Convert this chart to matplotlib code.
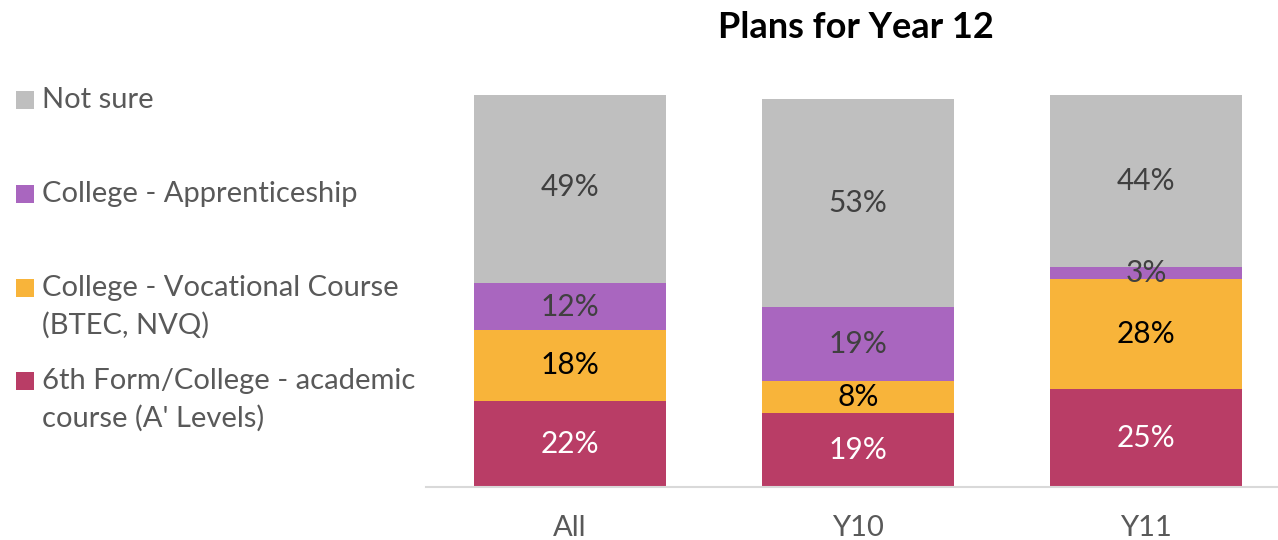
import matplotlib.pyplot as plt
from matplotlib.patches import Rectangle

# Share of students by plan for Year 12 (percent)
groups = ["All", "Y10", "Y11"]
series_names = [
    "6th Form/College - academic\ncourse (A' Levels)",
    "College - Vocational Course\n(BTEC, NVQ)",
    "College - Apprenticeship",
    "Not sure",
]
academic = [22, 19, 25]
vocational = [18, 8, 28]
apprenticeship = [12, 19, 3]
not_sure = [49, 53, 44]

colors = ["#B93D66", "#F8B43A", "#A966BF", "#BFBFBF"]
label_colors = ["white", "black", "#404040", "#404040"]

plt.rcParams['font.family'] = ['Lato', 'DejaVu Sans']

W, H = 1278, 540
fig = plt.figure(figsize=(W / 100, H / 100), dpi=100)
# plot area in pixels: x 426..1290, y 95..487
ax = fig.add_axes([426 / W, 1 - 487 / H, (1290 - 426) / W, (487 - 95) / H])

values = [academic, vocational, apprenticeship, not_sure]
x = list(range(len(groups)))
bottom = [0] * len(groups)
for vals, col, lcol in zip(values, colors, label_colors):
    ax.bar(x, vals, width=0.667, bottom=bottom, color=col, linewidth=0)
    for xi, v, b in zip(x, vals, bottom):
        ax.text(xi, b + v / 2, f"{v}%", ha="center", va="center",
                color=lcol, fontsize=21.5)
    bottom = [b + v for b, v in zip(bottom, vals)]

ax.set_xlim(-0.5, 2.5)
ax.set_ylim(0, 100)
ax.set_yticks([])
ax.set_xticks(x)
ax.set_xticklabels(groups, fontsize=21, color="#595959")
ax.tick_params(axis="x", length=0, pad=20)
for s in ["top", "right", "left"]:
    ax.spines[s].set_visible(False)
ax.spines["bottom"].set_color("#D9D9D9")
ax.spines["bottom"].set_linewidth(1.5)

fig.text(856 / W, 1 - 28 / H, "Plans for Year 12", ha="center", va="center",
         fontsize=26, fontweight="bold", color="black")

# legend drawn on the left, top entry first
legend_y = [100, 194, 288, 381]
for name, col, yc in zip(reversed(series_names), reversed(colors), legend_y):
    fig.patches.append(Rectangle((16 / W, 1 - (yc + 9) / H), 18 / W, 18 / H,
                                 transform=fig.transFigure, color=col,
                                 linewidth=0))
    lines = name.split("\n")
    for i, ln in enumerate(lines):
        fig.text(42 / W, 1 - (yc + i * 37) / H, ln, ha="left", va="center",
                 fontsize=21, color="#595959")

fig.savefig("out.png", dpi=100)
